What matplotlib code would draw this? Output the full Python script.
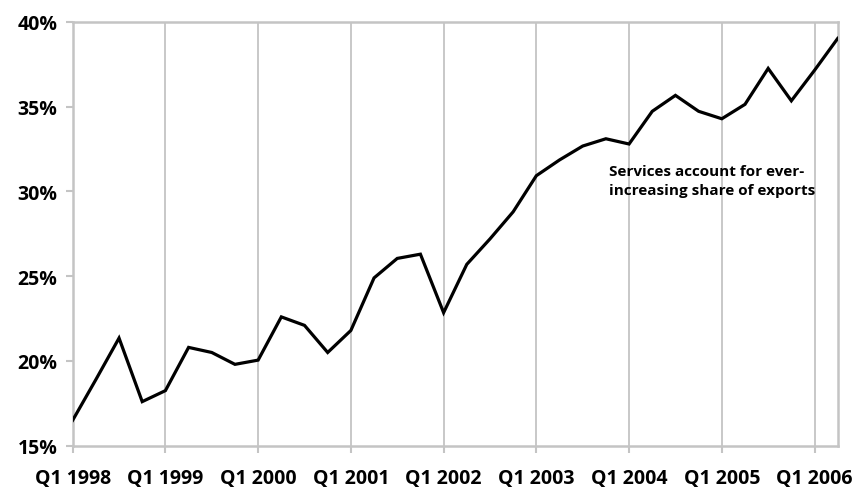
import matplotlib
matplotlib.use("Agg")
import matplotlib.pyplot as plt
import numpy as np

plt.rcParams['font.family'] = ['Open Sans', 'DejaVu Sans']

# quarterly share of services in exports, Q1 1998 .. Q2 2006 (%)
share = [16.5, 18.9, 21.35, 17.6,
         18.25, 20.8, 20.5, 19.8,
         20.05, 22.6, 22.1, 20.5,
         21.8, 24.9, 26.05, 26.3,
         22.85, 25.7, 27.2, 28.8,
         30.93, 31.86, 32.68, 33.11,
         32.8, 34.73, 35.67, 34.73,
         34.29, 35.14, 37.26, 35.35,
         37.15, 39.03]
year_labels = ['Q1 1998', 'Q1 1999', 'Q1 2000', 'Q1 2001', 'Q1 2002',
               'Q1 2003', 'Q1 2004', 'Q1 2005', 'Q1 2006']
y_ticks = [15, 20, 25, 30, 35, 40]
note = 'Services account for ever-\nincreasing share of exports'

grey = '#c4c4c4'

fig = plt.figure(figsize=(8.57, 4.89), dpi=100)
ax = fig.add_axes([0.0848, 0.0865, 0.8927, 0.8665])

x = np.arange(len(share))
ax.plot(x, share, color='black', lw=2.3, solid_joinstyle='miter', zorder=3)

ax.set_xlim(0, len(share) - 1)
ax.set_ylim(15, 40)

xt = np.arange(0, len(share), 4)
ax.set_xticks(xt)
ax.set_xticklabels(year_labels)
ax.set_yticks(y_ticks)
ax.set_yticklabels([f'{v}%' for v in y_ticks])

for v in xt[1:]:
    ax.axvline(v, color=grey, lw=1.3, zorder=1)

for s in ax.spines.values():
    s.set_color(grey)
    s.set_linewidth(1.8)

ax.tick_params(axis='both', colors=grey, length=5, width=1.5,
               labelcolor='black', labelsize=14)
ax.tick_params(axis='y', pad=6)
ax.tick_params(axis='x', pad=11)
for lab in ax.get_xticklabels() + ax.get_yticklabels():
    lab.set_fontweight('bold')

ax.text(23.15, 31.6, note, fontsize=11, fontweight='bold',
        ha='left', va='top', linespacing=1.45)

fig.savefig('out.png', dpi=100)
